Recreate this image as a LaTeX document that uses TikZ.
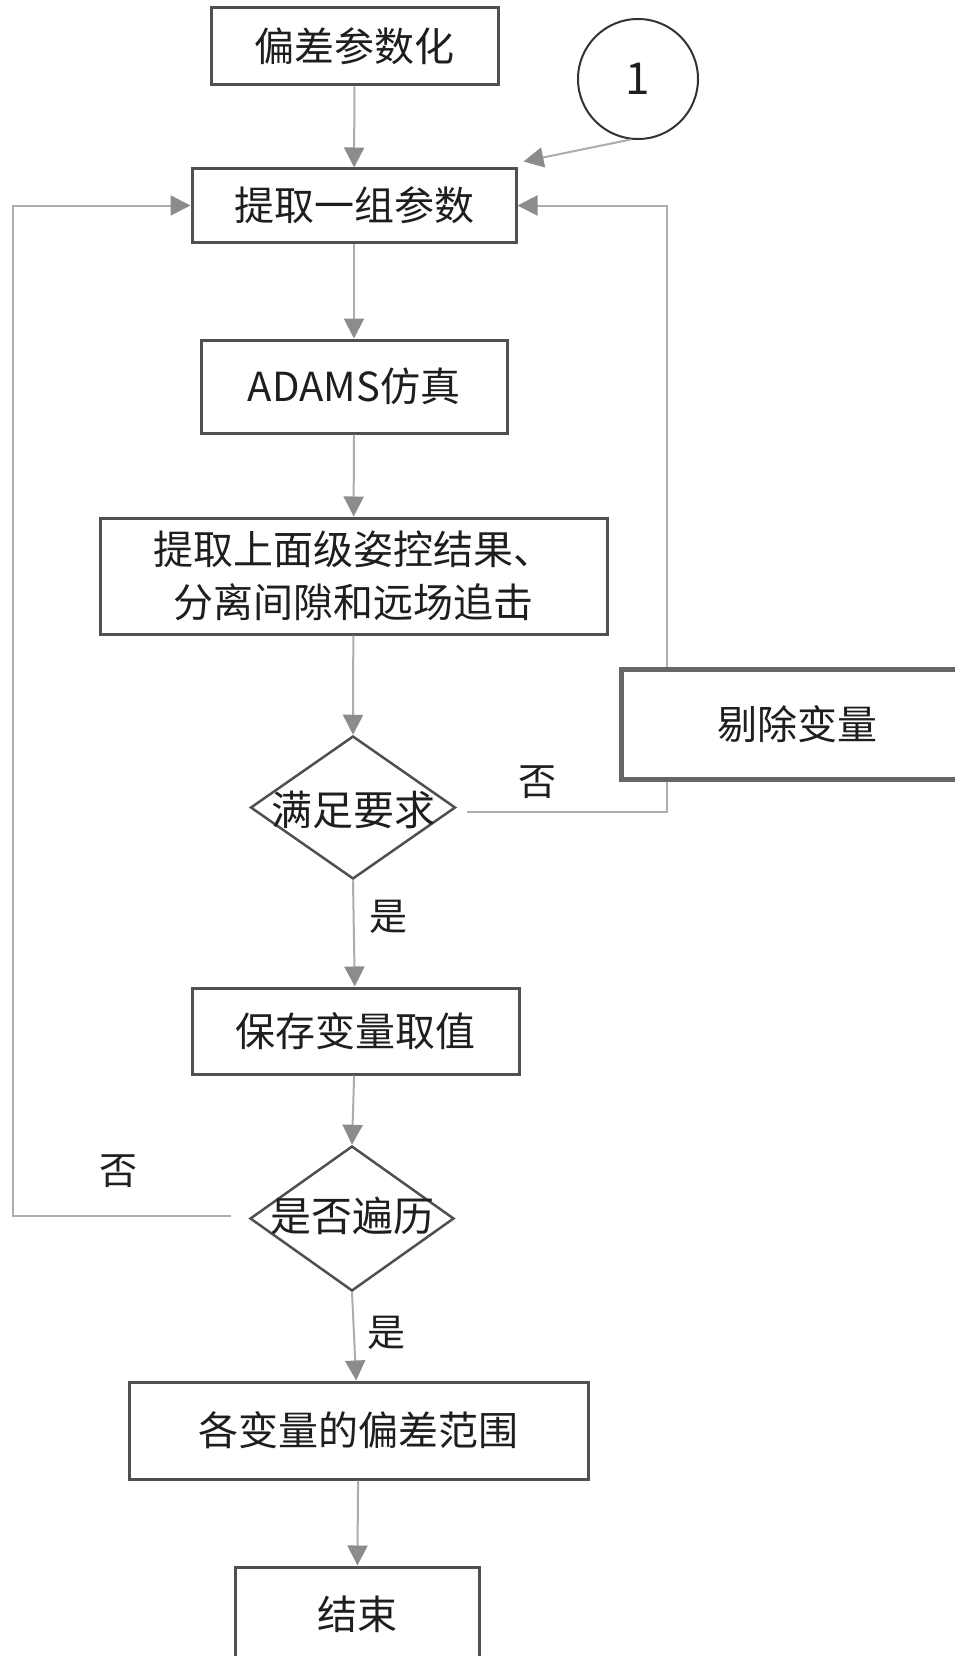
\documentclass[tikz,border=0pt]{standalone}
\usepackage{fontspec}
\setmainfont{Noto Sans CJK SC}
\usetikzlibrary{arrows.meta,shapes.geometric,calc}
\definecolor{boxc}{HTML}{505050}
\definecolor{rmc}{HTML}{666666}
\definecolor{linec}{HTML}{ADADAD}
\definecolor{tipc}{HTML}{8C8C8C}
\definecolor{txtc}{HTML}{1E1E1E}
\begin{document}
\begin{tikzpicture}[x=1pt,y=-1pt,
  box/.style={draw=boxc,line width=3pt,fill=white,inner sep=0pt,text=txtc,
    font=\fontsize{40}{53}\selectfont,align=center},
  dia/.style={diamond,draw=boxc,line width=2.5pt,inner sep=0pt},
  dtext/.style={text=txtc,font=\fontsize{41}{45}\selectfont,inner sep=0pt},
  conn/.style={draw=linec,line width=2pt,-{Triangle[width=20pt,length=20pt,color=tipc]}},
  lab/.style={text=txtc,font=\fontsize{38}{40}\selectfont,inner sep=0pt}]
\useasboundingbox (0,0) rectangle (954,1656);
\fill[white] (0,0) rectangle (954,1656);
% nodes
\node[box,minimum width=287pt,minimum height=77pt] (b1) at (354.5,46.5) {偏差参数化};
\node[circle,draw=black!80,line width=2pt,minimum size=120pt,inner sep=0pt,text=txtc,
  font=\fontsize{44}{46}\selectfont] (c1) at (638,79) {1};
\node[box,minimum width=324pt,minimum height=73pt] (b2) at (354,205.5) {提取一组参数};
\node[box,minimum width=306pt,minimum height=93pt] (b3) at (354,386.5) {ADAMS仿真};
\node[box,minimum width=507pt,minimum height=116pt] (b4) at (353.5,576) {提取上面级姿控结果、\\分离间隙和远场追击};
\node[dia,minimum width=205pt,minimum height=143pt] (d1) at (353,807.5) {};
\node[dtext] (d1t) at (353,810) {满足要求};
\node[box,minimum width=327pt,minimum height=86pt] (b5) at (355.5,1031) {保存变量取值};
\node[dia,minimum width=204pt,minimum height=145pt] (d2) at (352,1218.5) {};
\node[dtext] (d2t) at (352,1216) {是否遍历};
\node[box,minimum width=459pt,minimum height=97pt] (b6) at (358.5,1430.5) {各变量的偏差范围};
\node[box,minimum width=244pt,minimum height=94pt] (b7) at (357,1614) {结束};
% connectors
\draw[conn] (b1) -- (b2);
\draw[conn] (c1.-97) -- ($(b2.north east)+(6,-6)$);
\draw[conn] (b2) -- (b3);
\draw[conn] (b3) -- (b4);
\draw[conn] (b4) -- (d1.north);
\draw[conn] (d1.south) -- (b5);
\draw[conn] (b5) -- (d2.north);
\draw[conn] (d2.south) -- (b6);
\draw[conn] (b6) -- (b7);
\coordinate (rloop) at (667,812);
\coordinate (lloop) at (13,1216);
\draw[conn] ($(d1.east)+(10,4.5)$) -- (rloop) |- (b2.east);
\draw[conn] ($(d2.west)+(-18,-2.5)$) -- (lloop) |- (b2.west);
% remove-variable box (drawn over the loop line)
\node[box,draw=rmc,line width=5pt,minimum width=352pt,minimum height=110pt] (rm) at (797,724) {剔除变量};
% labels
\node[lab] (no1) at (537,782) {否};
\node[lab] (yes1) at (388,917) {是};
\node[lab] (no2) at (118,1171) {否};
\node[lab] (yes2) at (386,1333) {是};
\end{tikzpicture}
\end{document}
